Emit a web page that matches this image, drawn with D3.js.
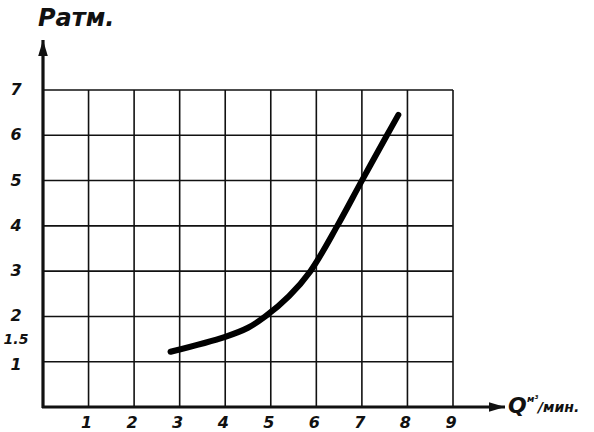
<!DOCTYPE html>
<html>
<head>
<meta charset="utf-8">
<script src="https://cdn.jsdelivr.net/npm/d3@7"></script>
<style>
  body { margin: 0; background: #fff; }
  svg { display: block; }
  text { font-family: "DejaVu Sans", sans-serif; font-style: italic; font-weight: bold; fill: #111; }
</style>
</head>
<body>
<svg width="594" height="432"></svg>
<script>
// Curve: Q (m3/min) vs P (atm)
const qValues = [2.8, 4.0, 4.5, 4.88, 5.4, 5.87, 6.46, 7.0, 7.55, 7.8]
const pValues = [1.22, 1.55, 1.75, 2.0, 2.45, 3.0, 4.0, 5.0, 6.0, 6.45]
const xTicks = [1, 2, 3, 4, 5, 6, 7, 8, 9]
const yTicks = [1, 1.5, 2, 3, 4, 5, 6, 7]
const yGrid = [1, 2, 3, 4, 5, 6, 7]

const svg = d3.select('svg')
const margin = {top: 90, right: 141, bottom: 25, left: 43}
const width = 594 - margin.left - margin.right
const height = 432 - margin.top - margin.bottom

const x = d3.scaleLinear().domain([0, 9]).range([margin.left, margin.left + width])
const y = d3.scaleLinear().domain([0, 7]).range([margin.top + height, margin.top])

// Grid
svg.append('g')
  .selectAll('line')
  .data(xTicks)
  .join('line')
  .attr('x1', d => x(d)).attr('x2', d => x(d))
  .attr('y1', y(0)).attr('y2', y(7))
  .attr('stroke', '#111').attr('stroke-width', 1.6)

svg.append('g')
  .selectAll('line')
  .data(yGrid)
  .join('line')
  .attr('x1', x(0)).attr('x2', x(9))
  .attr('y1', d => y(d)).attr('y2', d => y(d))
  .attr('stroke', '#111').attr('stroke-width', 1.6)

// Axes with arrows
svg.append('defs').append('marker')
  .attr('id', 'arrow')
  .attr('viewBox', '0 0 10 6')
  .attr('refX', 10).attr('refY', 3)
  .attr('markerWidth', 5).attr('markerHeight', 3)
  .attr('orient', 'auto')
  .append('path')
  .attr('d', 'M0,0 L10,3 L0,6 Z')
  .attr('fill', '#111')

svg.append('line')
  .attr('x1', x(0)).attr('x2', x(0))
  .attr('y1', y(0) + 1).attr('y2', 40)
  .attr('stroke', '#111').attr('stroke-width', 3.2)
  .attr('marker-end', 'url(#arrow)')

svg.append('line')
  .attr('x1', x(0) - 1).attr('x2', 505)
  .attr('y1', y(0)).attr('y2', y(0))
  .attr('stroke', '#111').attr('stroke-width', 3.2)
  .attr('marker-end', 'url(#arrow)')

// Tick labels
svg.append('g')
  .selectAll('text')
  .data(xTicks)
  .join('text')
  .attr('x', d => x(d) - 2)
  .attr('y', y(0) + 21)
  .attr('text-anchor', 'middle')
  .attr('font-size', 16)
  .text(d => d)

svg.append('g')
  .selectAll('text')
  .data(yTicks)
  .join('text')
  .attr('x', 16)
  .attr('y', d => y(d) + (d === 1 ? 8 : 5))
  .attr('text-anchor', 'middle')
  .attr('font-size', d => d === 1.5 ? 14 : 16)
  .text(d => d)

// Axis titles
svg.append('text')
  .attr('x', 38).attr('y', 26)
  .attr('font-size', 24)
  .text('Ратм.')

svg.append('text')
  .attr('x', 508).attr('y', 413)
  .attr('font-size', 22)
  .text('Q')
svg.append('text')
  .attr('x', 527).attr('y', 402)
  .attr('font-size', 9)
  .text('м³')
svg.append('text')
  .attr('x', 538).attr('y', 412)
  .attr('font-size', 14)
  .text('/мин.')

// Curve
const points = qValues.map((q, i) => [q, pValues[i]])
const line = d3.line()
  .x(d => x(d[0]))
  .y(d => y(d[1]))
  .curve(d3.curveCatmullRom.alpha(0.5))

svg.append('path')
  .datum(points)
  .attr('d', line)
  .attr('fill', 'none')
  .attr('stroke', '#000')
  .attr('stroke-width', 6)
  .attr('stroke-linecap', 'round')
</script>
</body>
</html>
